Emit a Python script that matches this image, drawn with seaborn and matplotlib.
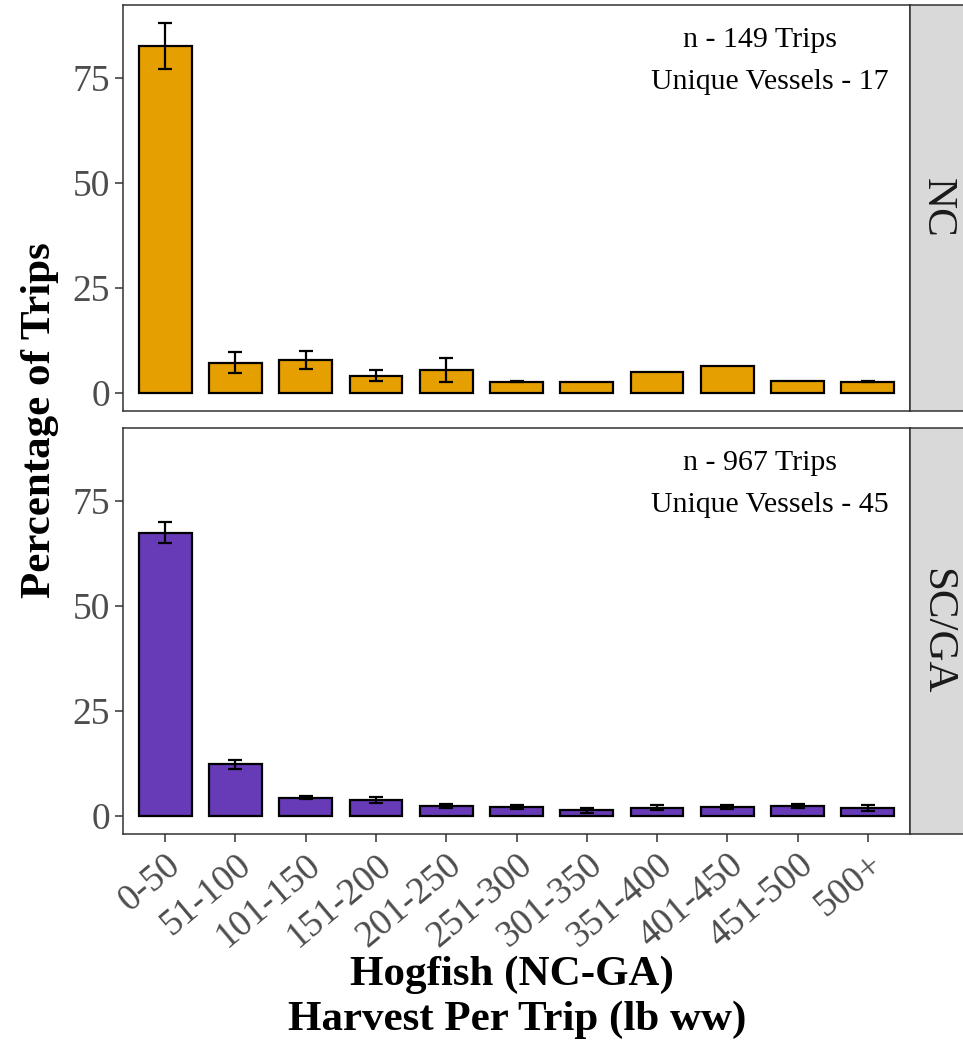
import matplotlib
matplotlib.use("Agg")
from matplotlib import pyplot as plt
import pandas as pd
import seaborn as sns
import numpy as np

# harvest bins (lb ww)
bins = ['0-50', '51-100', '101-150', '151-200', '201-250', '251-300',
        '301-350', '351-400', '401-450', '451-500', '500+']

# NC: percentage of trips and error bar limits
nc_pct = [82.7, 7.0, 7.7, 4.0, 5.4, 2.6, 2.4, 5.0, 6.4, 2.8, 2.6]
nc_lo = [77.2, 4.6, 5.6, 2.8, 2.6, 2.5, np.nan, np.nan, np.nan, np.nan, 2.5]
nc_hi = [88.0, 9.6, 9.9, 5.3, 8.3, 2.7, np.nan, np.nan, np.nan, np.nan, 2.7]

# SC/GA
sg_pct = [67.4, 12.2, 4.3, 3.7, 2.3, 2.0, 1.3, 1.9, 2.0, 2.3, 1.9]
sg_lo = [65.0, 11.1, 3.9, 2.9, 1.8, 1.5, 0.7, 1.3, 1.5, 1.7, 1.2]
sg_hi = [69.9, 13.3, 4.7, 4.4, 2.7, 2.4, 1.8, 2.4, 2.5, 2.8, 2.5]

regions = ['NC', 'SC/GA']
n_trips = [149, 967]
n_vessels = [17, 45]
colors = ['#E69F00', '#673AB7']

sns.set_theme(style="white")
plt.rcParams['font.family'] = ['Liberation Serif', 'DejaVu Serif']

fig = plt.figure(figsize=(9.63, 10.44), dpi=100)
W, H = 963, 1044
panels = [(5, 411), (428, 834)]
x0, x1, xs = 123, 910, 963

data = [(nc_pct, nc_lo, nc_hi), (sg_pct, sg_lo, sg_hi)]
axes = []
for i, (top, bot) in enumerate(panels):
    ax = fig.add_axes([x0 / W, 1 - bot / H, (x1 - x0) / W, (bot - top) / H])
    pct, lo, hi = data[i]
    df = pd.DataFrame({'bin': bins, 'pct': pct})
    sns.barplot(ax=ax, data=df, x='bin', y='pct', color=colors[i], saturation=1,
                width=0.75, edgecolor='black', linewidth=1.6, errorbar=None)
    pos = np.arange(len(bins))
    lo_a, hi_a = np.array(lo), np.array(hi)
    mid = (lo_a + hi_a) / 2
    ax.errorbar(pos, mid, yerr=(hi_a - lo_a) / 2, fmt='none', ecolor='black',
                elinewidth=1.6, capsize=5, capthick=1.6, zorder=5)
    ax.set_xlim(-0.6, len(bins) - 0.4)
    ax.set_ylim(-4.4, 92.4)
    ax.set_yticks([0, 25, 50, 75])
    ax.set_xlabel('')
    ax.set_ylabel('')
    for s in ax.spines.values():
        s.set_color('#333333')
        s.set_linewidth(1.1)
    ax.tick_params(axis='both', which='both', length=6, width=1.1, color='#333333',
                   labelsize=27, labelcolor='#4D4D4D', bottom=True, left=True)
    ax.text(8.46, 84, f'n - {n_trips[i]} Trips', ha='center', va='center',
            fontsize=21.5, color='black')
    ax.text(8.6, 74, f'Unique Vessels - {n_vessels[i]}', ha='center', va='center',
            fontsize=21.5, color='black')

    strip = fig.add_axes([x1 / W, 1 - bot / H, (xs - x1) / W, (bot - top) / H])
    strip.set_facecolor('#D9D9D9')
    strip.set_xticks([])
    strip.set_yticks([])
    for s in strip.spines.values():
        s.set_color('#333333')
        s.set_linewidth(1.1)
    strip.spines['right'].set_visible(False)
    strip.text(0.5, 0.5, regions[i], rotation=270, ha='center', va='center',
               fontsize=31, color='#1A1A1A', transform=strip.transAxes)
    axes.append(ax)

axes[0].set_xticklabels([])
axes[0].tick_params(axis='x', length=0)
plt.setp(axes[1].get_xticklabels(), rotation=40, ha='right', rotation_mode='anchor')

fig.text(40 / W, 1 - 420 / H, 'Percentage of Trips', rotation=90, ha='center', va='center',
         fontsize=31, fontweight='bold', color='black')
fig.text(512 / W, 1 - 975 / H, 'Hogfish (NC-GA)', ha='center', va='center',
         fontsize=31, fontweight='bold', color='black')
fig.text(517 / W, 1 - 1020 / H, 'Harvest Per Trip (lb ww)', ha='center', va='center',
         fontsize=31, fontweight='bold', color='black')

fig.savefig('out.png', dpi=100)
